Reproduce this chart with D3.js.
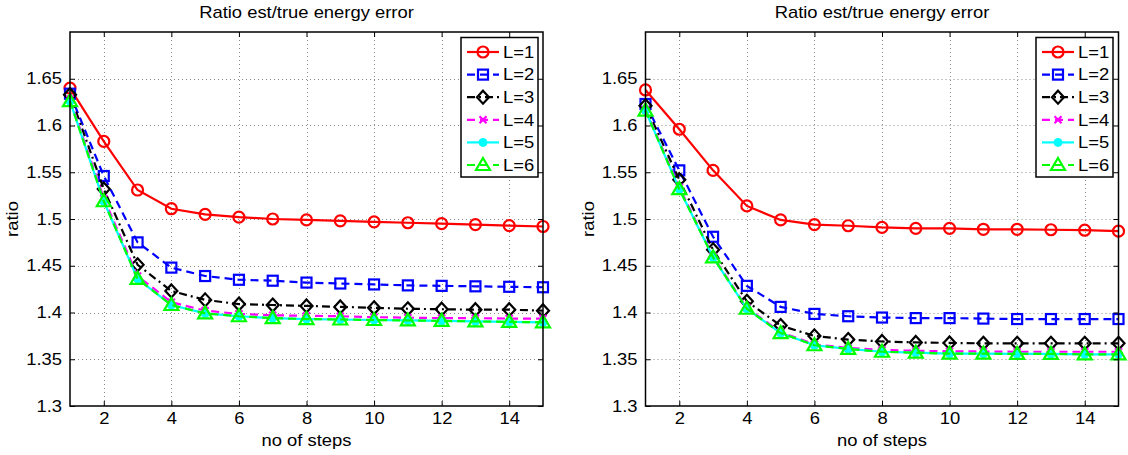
<!DOCTYPE html>
<html>
<head>
<meta charset="utf-8">
<script src="https://cdn.jsdelivr.net/npm/d3@7"></script>
<style>
  body { margin: 0; background: #fff; }
  svg { display: block; font-family: "Liberation Sans", Arial, sans-serif; }
</style>
</head>
<body>
<svg id="chart" width="1128" height="455"></svg>
<script>
// data
const steps = [1, 2, 3, 4, 5, 6, 7, 8, 9, 10, 11, 12, 13, 14, 15];
const seriesLabels = ['L=1', 'L=2', 'L=3', 'L=4', 'L=5', 'L=6'];
const xTicks = [2, 4, 6, 8, 10, 12, 14];
const yTicks = [1.3, 1.35, 1.4, 1.45, 1.5, 1.55, 1.6, 1.65];
const chartTitle = 'Ratio est/true energy error';
const xLabel = 'no of steps';
const yLabel = 'ratio';

// left panel
const leftL1 = [1.640, 1.583, 1.531, 1.511, 1.505, 1.502, 1.500, 1.499, 1.498, 1.497, 1.496, 1.495, 1.494, 1.493, 1.492];
const leftL2 = [1.634, 1.546, 1.475, 1.448, 1.439, 1.435, 1.434, 1.432, 1.431, 1.430, 1.429, 1.4285, 1.428, 1.4275, 1.427];
const leftL3 = [1.633, 1.532, 1.451, 1.423, 1.4135, 1.409, 1.408, 1.407, 1.406, 1.405, 1.404, 1.4035, 1.403, 1.403, 1.402];
const leftL4 = [1.628, 1.522, 1.439, 1.411, 1.402, 1.3985, 1.397, 1.3965, 1.396, 1.395, 1.3945, 1.394, 1.394, 1.3935, 1.3935];
const leftL5 = [1.626, 1.519, 1.436, 1.408, 1.399, 1.396, 1.394, 1.393, 1.3925, 1.392, 1.3915, 1.391, 1.3905, 1.390, 1.3895];
const leftL6 = [1.626, 1.519, 1.436, 1.408, 1.399, 1.396, 1.394, 1.393, 1.3925, 1.392, 1.3915, 1.391, 1.3905, 1.390, 1.3895];

// right panel
const rightL1 = [1.638, 1.596, 1.552, 1.514, 1.499, 1.494, 1.4928, 1.491, 1.490, 1.490, 1.489, 1.489, 1.4885, 1.488, 1.487];
const rightL2 = [1.623, 1.552, 1.481, 1.4285, 1.406, 1.3985, 1.396, 1.3946, 1.394, 1.394, 1.3935, 1.393, 1.393, 1.393, 1.393];
const rightL3 = [1.621, 1.542, 1.467, 1.412, 1.386, 1.375, 1.371, 1.369, 1.368, 1.3675, 1.367, 1.367, 1.367, 1.367, 1.367];
const rightL4 = [1.617, 1.534, 1.460, 1.405, 1.379, 1.366, 1.362, 1.360, 1.359, 1.3585, 1.3583, 1.358, 1.358, 1.358, 1.358];
const rightL5 = [1.616, 1.532, 1.459, 1.404, 1.378, 1.365, 1.361, 1.358, 1.357, 1.356, 1.356, 1.3557, 1.3557, 1.3553, 1.3553];
const rightL6 = [1.616, 1.532, 1.459, 1.404, 1.378, 1.365, 1.361, 1.358, 1.357, 1.356, 1.356, 1.3557, 1.3557, 1.3553, 1.3553];

const leftSeries = [leftL1, leftL2, leftL3, leftL4, leftL5, leftL6];
const rightSeries = [rightL1, rightL2, rightL3, rightL4, rightL5, rightL6];

// look of each series (matlab style)
const styles = [
  { color: '#ff0000', dash: null, marker: 'circle' },
  { color: '#0000ff', dash: '8,5', marker: 'square' },
  { color: '#000000', dash: '8,4,2,4', marker: 'diamond' },
  { color: '#ff00ff', dash: '8,5', marker: 'cross' },
  { color: '#00ffff', dash: null, marker: 'dot' },
  { color: '#00ff00', dash: '8,5', marker: 'triangle' }
];

const FONT = '16px';
const STRETCH = 1.15;

const svg = d3.select('#chart');
svg.append('rect').attr('width', 1128).attr('height', 455).attr('fill', '#fff');

// text in the reference is a bit wider than the font, so stretch it sideways
const stretch = sel => sel.each(function() {
  const t = d3.select(this);
  const tx = +t.attr('x') || 0;
  const prev = t.attr('transform') || '';
  t.attr('transform', `${prev} translate(${tx},0) scale(${STRETCH},1) translate(${-tx},0)`);
});

const drawMarker = (g, type, color, cx, cy) => {
  if (type === 'circle') {
    g.append('circle').attr('cx', cx).attr('cy', cy).attr('r', 5.5)
      .attr('fill', 'none').attr('stroke', color).attr('stroke-width', 2.2);
  } else if (type === 'square') {
    g.append('rect').attr('x', cx - 5).attr('y', cy - 5).attr('width', 10).attr('height', 10)
      .attr('fill', 'none').attr('stroke', color).attr('stroke-width', 2.2);
  } else if (type === 'diamond') {
    g.append('path').attr('d', `M${cx},${cy - 6.5}L${cx + 6},${cy}L${cx},${cy + 6.5}L${cx - 6},${cy}Z`)
      .attr('fill', 'none').attr('stroke', color).attr('stroke-width', 2.2);
  } else if (type === 'cross') {
    g.append('path').attr('d', `M${cx - 3.5},${cy - 3.5}L${cx + 3.5},${cy + 3.5}M${cx - 3.5},${cy + 3.5}L${cx + 3.5},${cy - 3.5}`)
      .attr('fill', 'none').attr('stroke', color).attr('stroke-width', 2.2);
  } else if (type === 'dot') {
    g.append('circle').attr('cx', cx).attr('cy', cy).attr('r', 4)
      .attr('fill', color).attr('stroke', color).attr('stroke-width', 1);
  } else if (type === 'triangle') {
    g.append('path').attr('d', `M${cx},${cy - 7}L${cx + 7},${cy + 5}L${cx - 7},${cy + 5}Z`)
      .attr('fill', 'none').attr('stroke', color).attr('stroke-width', 2.2);
  }
};

const drawPanel = (left, right, series, legendLeft) => {
  const top = 32, bottom = 406;

  const x = d3.scaleLinear().domain([1, 15]).range([left, right]);
  const y = d3.scaleLinear().domain([1.3, 1.7]).range([bottom, top]);

  const g = svg.append('g');

  //grid
  const grid = g.append('g')
    .attr('stroke', '#8c8c8c')
    .attr('stroke-width', 1)
    .attr('stroke-dasharray', '1,3');
  grid.selectAll('.gx').data(xTicks).enter().append('line')
    .attr('x1', d => Math.round(x(d)) + 0.5).attr('x2', d => Math.round(x(d)) + 0.5)
    .attr('y1', top).attr('y2', bottom);
  grid.selectAll('.gy').data(yTicks.filter(d => d > 1.3)).enter().append('line')
    .attr('x1', left).attr('x2', right)
    .attr('y1', d => Math.round(y(d)) + 0.5).attr('y2', d => Math.round(y(d)) + 0.5);

  //series
  const line = d3.line().x((d, i) => x(steps[i])).y(d => y(d));
  series.forEach((values, k) => {
    const st = styles[k];
    const sg = g.append('g');
    sg.append('path').datum(values)
      .attr('fill', 'none')
      .attr('stroke', st.color)
      .attr('stroke-width', 2.2)
      .attr('stroke-dasharray', st.dash)
      .attr('d', line);
    values.forEach((v, i) => drawMarker(sg, st.marker, st.color, x(steps[i]), y(v)));
  });

  //axes
  const fmt = d => String(d);
  const xAxis = d3.axisBottom(x).tickValues(xTicks).tickSize(-5).tickPadding(7).tickFormat(fmt);
  const xAxisTop = d3.axisTop(x).tickValues(xTicks).tickSize(-5).tickFormat('');
  const yAxis = d3.axisLeft(y).tickValues(yTicks).tickSize(-5).tickPadding(8).tickFormat(fmt);
  const yAxisRight = d3.axisRight(y).tickValues(yTicks).tickSize(-5).tickFormat('');

  const axes = [
    g.append('g').attr('transform', `translate(0,${bottom})`).call(xAxis),
    g.append('g').attr('transform', `translate(0,${top})`).call(xAxisTop),
    g.append('g').attr('transform', `translate(${left},0)`).call(yAxis),
    g.append('g').attr('transform', `translate(${right},0)`).call(yAxisRight)
  ];
  axes.forEach(a => {
    a.select('.domain').remove();
    a.selectAll('line').attr('stroke', '#000');
    a.selectAll('text').attr('fill', '#000').style('font-size', FONT).call(stretch);
  });

  g.append('rect')
    .attr('x', left).attr('y', top)
    .attr('width', right - left).attr('height', bottom - top)
    .attr('fill', 'none').attr('stroke', '#000').attr('stroke-width', 1.5);

  //labels
  const mid = (left + right) / 2;
  g.append('text').attr('x', mid).attr('y', 18).attr('text-anchor', 'middle')
    .style('font-size', FONT).text(chartTitle).call(stretch);
  g.append('text').attr('x', mid).attr('y', 446).attr('text-anchor', 'middle')
    .style('font-size', FONT).text(xLabel).call(stretch);
  g.append('text').attr('transform', `translate(${left - 52},${(top + bottom) / 2}) rotate(-90) scale(${STRETCH},1)`)
    .attr('text-anchor', 'middle').style('font-size', FONT).text(yLabel);

  //legend
  const lg = g.append('g').attr('transform', `translate(${legendLeft},37.5)`);
  lg.append('rect').attr('width', 77).attr('height', 139.5)
    .attr('fill', '#fff').attr('stroke', '#000').attr('stroke-width', 1.5);
  seriesLabels.forEach((label, k) => {
    const st = styles[k];
    const ry = 14.5 + k * 22.6;
    lg.append('line').attr('x1', 6).attr('x2', 38).attr('y1', ry).attr('y2', ry)
      .attr('stroke', st.color).attr('stroke-width', 2.2).attr('stroke-dasharray', st.dash);
    drawMarker(lg, st.marker, st.color, 22, ry);
    lg.append('text').attr('x', 42).attr('y', ry).attr('dy', '0.36em')
      .style('font-size', FONT).text(label).call(stretch);
  });
};

drawPanel(70, 543, leftSeries, 461);
drawPanel(645.5, 1118.5, rightSeries, 1036);
</script>
</body>
</html>
